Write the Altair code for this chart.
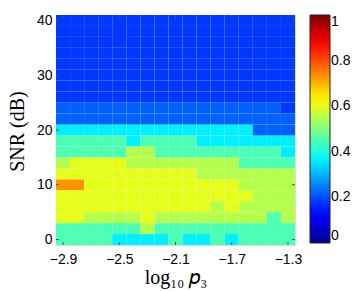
import altair as alt
import pandas as pd

# ---- data ----
x_vals = [-2.9, -2.8, -2.7, -2.6, -2.5, -2.4, -2.3, -2.2, -2.1,
          -2.0, -1.9, -1.8, -1.7, -1.6, -1.5, -1.4, -1.3]
snr_vals = [0, 2, 4, 6, 8, 10, 12, 14, 16, 18, 20,
            22, 24, 26, 28, 30, 32, 34, 36, 38, 40]

snr_00 = [0.45, 0.45, 0.45, 0.45, 0.36, 0.36, 0.36, 0.36, 0.45, 0.36, 0.36, 0.45, 0.36, 0.45, 0.45, 0.45, 0.45]
snr_02 = [0.45, 0.45, 0.45, 0.45, 0.45, 0.45, 0.55, 0.45, 0.45, 0.45, 0.45, 0.45, 0.45, 0.45, 0.45, 0.45, 0.45]
snr_04 = [0.60, 0.60, 0.55, 0.55, 0.55, 0.55, 0.60, 0.55, 0.55, 0.55, 0.55, 0.55, 0.55, 0.55, 0.55, 0.45, 0.55]
snr_06 = [0.60, 0.60, 0.60, 0.60, 0.60, 0.60, 0.60, 0.60, 0.60, 0.60, 0.60, 0.55, 0.60, 0.55, 0.55, 0.55, 0.55]
snr_08 = [0.60, 0.60, 0.60, 0.60, 0.60, 0.60, 0.60, 0.60, 0.60, 0.60, 0.60, 0.60, 0.60, 0.60, 0.55, 0.55, 0.55]
snr_10 = [0.73, 0.73, 0.60, 0.60, 0.60, 0.60, 0.60, 0.60, 0.60, 0.60, 0.60, 0.60, 0.60, 0.55, 0.55, 0.55, 0.55]
snr_12 = [0.60, 0.60, 0.60, 0.60, 0.60, 0.60, 0.60, 0.60, 0.60, 0.60, 0.55, 0.55, 0.55, 0.55, 0.55, 0.55, 0.55]
snr_14 = [0.55, 0.60, 0.60, 0.60, 0.60, 0.55, 0.55, 0.55, 0.55, 0.55, 0.55, 0.55, 0.55, 0.45, 0.45, 0.45, 0.45]
snr_16 = [0.45, 0.45, 0.45, 0.45, 0.45, 0.55, 0.55, 0.45, 0.45, 0.45, 0.45, 0.45, 0.45, 0.45, 0.45, 0.45, 0.36]
snr_18 = [0.45, 0.45, 0.45, 0.45, 0.45, 0.36, 0.45, 0.45, 0.45, 0.45, 0.36, 0.36, 0.36, 0.36, 0.36, 0.36, 0.36]
snr_20 = [0.36, 0.36, 0.36, 0.36, 0.36, 0.36, 0.36, 0.36, 0.36, 0.36, 0.36, 0.36, 0.36, 0.36, 0.22, 0.22, 0.22]
snr_22 = [0.22, 0.22, 0.22, 0.22, 0.22, 0.22, 0.22, 0.22, 0.22, 0.22, 0.22, 0.22, 0.22, 0.22, 0.22, 0.22, 0.22]
snr_24 = [0.22, 0.22, 0.22, 0.22, 0.22, 0.22, 0.22, 0.22, 0.22, 0.22, 0.22, 0.22, 0.22, 0.22, 0.22, 0.22, 0.18]
snr_26 = [0.18, 0.18, 0.18, 0.18, 0.18, 0.18, 0.18, 0.18, 0.18, 0.18, 0.18, 0.18, 0.18, 0.18, 0.18, 0.18, 0.18]
snr_28 = [0.18, 0.18, 0.18, 0.18, 0.18, 0.18, 0.18, 0.18, 0.18, 0.18, 0.18, 0.18, 0.18, 0.18, 0.18, 0.18, 0.18]
snr_30 = [0.18, 0.18, 0.18, 0.18, 0.18, 0.18, 0.18, 0.18, 0.18, 0.18, 0.18, 0.18, 0.18, 0.18, 0.18, 0.18, 0.18]
snr_32 = [0.18, 0.18, 0.18, 0.18, 0.18, 0.18, 0.18, 0.18, 0.18, 0.18, 0.18, 0.18, 0.18, 0.18, 0.18, 0.18, 0.18]
snr_34 = [0.18, 0.18, 0.18, 0.18, 0.18, 0.18, 0.18, 0.18, 0.18, 0.18, 0.18, 0.18, 0.18, 0.18, 0.18, 0.18, 0.18]
snr_36 = [0.18, 0.18, 0.18, 0.18, 0.18, 0.18, 0.18, 0.18, 0.18, 0.18, 0.18, 0.18, 0.18, 0.18, 0.18, 0.18, 0.18]
snr_38 = [0.18, 0.18, 0.18, 0.18, 0.18, 0.18, 0.18, 0.18, 0.18, 0.18, 0.18, 0.18, 0.18, 0.18, 0.18, 0.18, 0.18]
snr_40 = [0.18, 0.18, 0.18, 0.18, 0.18, 0.18, 0.18, 0.18, 0.18, 0.18, 0.18, 0.18, 0.18, 0.18, 0.18, 0.18, 0.18]

z_rows = [snr_00, snr_02, snr_04, snr_06, snr_08, snr_10, snr_12, snr_14,
          snr_16, snr_18, snr_20, snr_22, snr_24, snr_26, snr_28, snr_30,
          snr_32, snr_34, snr_36, snr_38, snr_40]

x_ticks = [-2.9, -2.5, -2.1, -1.7, -1.3]
y_ticks = [0, 10, 20, 30, 40]
cbar_ticks = [0, 0.2, 0.4, 0.6, 0.8, 1]

# MATLAB jet colormap break points
jet_stops = [0, 0.125, 0.375, 0.625, 0.875, 1]
jet_colors = ["#00008f", "#0000ff", "#00ffff", "#ffff00", "#ff0000", "#800000"]

x_step = 0.1
y_step = 2

records = []
for snr, row in zip(snr_vals, z_rows):
    for xv, z in zip(x_vals, row):
        records.append({
            "x0": round(xv - x_step / 2, 4), "x1": round(xv + x_step / 2, 4),
            "y0": snr - y_step / 2, "y1": snr + y_step / 2, "z": z,
        })
df = pd.DataFrame(records)

W, H = 239, 230
TICK = 3
GRAY = "#555555"
LABEL_FONT = "Liberation Sans"
TITLE_FONT = "Liberation Serif"

x_scale = alt.Scale(domain=[x_vals[0] - x_step / 2, x_vals[-1] + x_step / 2], nice=False, zero=False)
y_scale = alt.Scale(domain=[snr_vals[0] - y_step / 2, snr_vals[-1] + y_step / 2], nice=False, zero=False)
c_scale = alt.Scale(domain=jet_stops, range=jet_colors, interpolate="rgb")

heat = alt.Chart(df).mark_rect(strokeWidth=0).encode(
    x=alt.X("x0:Q", scale=x_scale,
            axis=alt.Axis(values=x_ticks, ticks=False, domain=False, grid=False,
                          labelExpr="format(datum.value, '.1f') + '\u00a0\u00a0'",
                          labelFont=LABEL_FONT, labelFontSize=14, labelColor="black",
                          labelPadding=7,
                          title="log₁₀ 𝑝₃", titleFont=TITLE_FONT, titleColor="black",
                          titleFontSize=20, titleFontWeight="normal",
                          titleBaseline="alphabetic", titleY=38)),
    x2="x1:Q",
    y=alt.Y("y0:Q", scale=y_scale,
            axis=alt.Axis(values=y_ticks, format="d", ticks=False, domain=False,
                          grid=False, labelPadding=4,
                          labelFont=LABEL_FONT, labelFontSize=14, labelColor="black",
                          title="SNR (dB)", titleFont=TITLE_FONT, titleColor="black",
                          titleFontSize=20, titleFontWeight="normal",
                          titleAngle=270, titleBaseline="alphabetic",
                          titleAlign="center", titleX=-33, titleY=116)),
    y2="y1:Q",
    color=alt.Color("z:Q", scale=c_scale,
                    legend=alt.Legend(type="gradient", title=None, orient="none",
                                      direction="vertical",
                                      legendX=254, legendY=0, values=cbar_ticks,
                                      format=".1~f",
                                      gradientLength=228, gradientThickness=20,
                                      gradientStrokeColor="#222222", gradientStrokeWidth=1,
                                      labelFont=LABEL_FONT, labelFontSize=14,
                                      labelColor="black", labelOffset=1,
                                      labelBaseline="middle", padding=0)),
)

xt = pd.DataFrame({"t": x_ticks})
yt = pd.DataFrame({"t": y_ticks})

xtick_bottom = alt.Chart(xt).mark_rule(color=GRAY).encode(
    x="t:Q", y=alt.value(H), y2=alt.value(H - TICK))
xtick_top = alt.Chart(xt).mark_rule(color=GRAY).encode(
    x="t:Q", y=alt.value(0), y2=alt.value(TICK))
ytick_left = alt.Chart(yt).mark_rule(color=GRAY).encode(
    y="t:Q", x=alt.value(0), x2=alt.value(TICK))
ytick_right = alt.Chart(yt).mark_rule(color=GRAY).encode(
    y="t:Q", x=alt.value(W), x2=alt.value(W - TICK))

chart = alt.layer(heat, xtick_bottom, xtick_top, ytick_left, ytick_right).properties(
    width=W, height=H,
    autosize=alt.AutoSizeParams(type="none"),
    padding={"left": 48, "top": 7, "right": 56, "bottom": 46},
).configure_view(
    stroke=GRAY, strokeWidth=1
).configure_axis(
    zindex=1
).configure(background="white")

chart.save("out.html", embed_options={"renderer": "svg", "actions": False})
